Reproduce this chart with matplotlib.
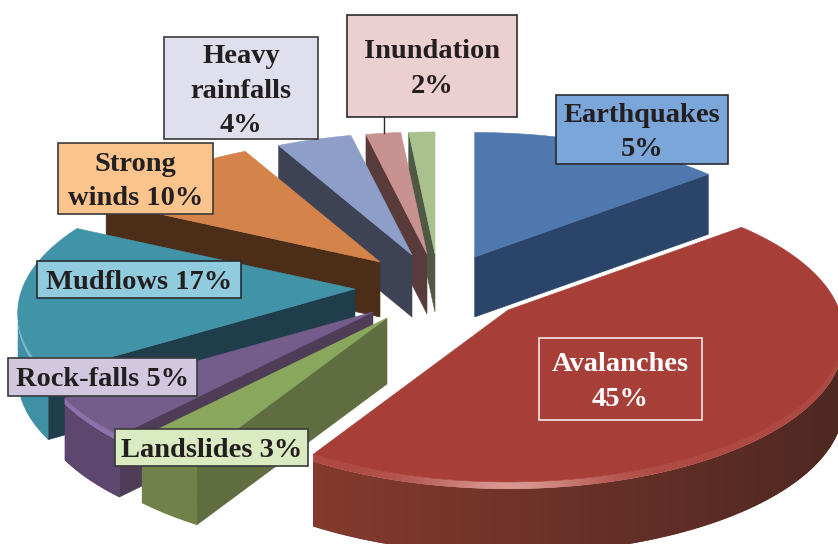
import numpy as np
import matplotlib
matplotlib.use("Agg")
import matplotlib.pyplot as plt
from matplotlib.colors import to_rgb
from matplotlib.patches import Polygon, Rectangle

# ---- data: slice shares, clockwise from twelve o'clock
slice_names = ["Earthquakes", "Avalanches", "Landslides", "Rock-falls", "Mudflows",
               "Strong winds", "Heavy rainfalls", "Inundation", "Other"]
slice_shares = [14.2, 44.5, 3.2, 4.3, 16.5, 9.9, 4.3, 2.0, 1.5]

# ---- label texts as printed on the chart
label_texts = ["Earthquakes\n5%", "Avalanches\n45%", "Landslides 3%", "Rock-falls 5%",
               "Mudflows 17%", "Strong\nwinds 10%", "Heavy\nrainfalls\n4%", "Inundation\n2%"]

# ---- styles
face_colors = ["#4F78AE", "#A83E38", "#89A85D", "#745C8B", "#4193A8",
               "#D4844A", "#8D9FC9", "#C89290", "#A9C18D"]
radial_colors = ["#2A4569", "#4E2822", "#5F6D41", "#4F3C57", "#203D4C",
                 "#4C2D18", "#3D4354", "#5A3B3B", "#4F5944"]
wall_left = ["#2A4569", "#843A2E", "#72814A", "#5D476E", "#3F90A5",
             "#4C2D18", "#3D4354", "#5A3B3B", "#4F5944"]
wall_right = ["#2A4569", "#4E2822", "#72814A", "#5D476E", "#3F90A5",
              "#4C2D18", "#3D4354", "#5A3B3B", "#4F5944"]
rim_colors = ["#6E93C0", "#D8978F", "#9DB874", "#8E72AC", "#7EB5C7",
              "#D4844A", "#8D9FC9", "#C89290", "#A9C18D"]
rim_sizes = [0, 7, 4, 6, 5, 0, 0, 0, 0]
depths = [60, 65, 62, 56, 60, 55, 62, 60, 58]
apex_x = [474.7, 508, 387, 373, 355, 380, 412, 427, 435]
apex_y = [257, 310, 318, 312, 289, 262, 255, 254, 254]
radius_scale = [1.01, 1.01, 0.985, 1.02, 1.015, 1.0, 0.99, 0.99, 0.99]
RX, RY, PERSP = 328.0, 143.0, 0.16
draw_order = [8, 7, 6, 5, 4, 3, 2, 0, 1]

# boxes: left, top, right, bottom, fill, edge, text colour
label_boxes = [
    (556, 95, 728, 164, "#7BA6DA", "#2B2B30", "#231F20"),
    (539, 338, 702, 420, "none", "#F4E6E4", "#FFFFFF"),
    (115, 429, 308, 466, "#DAEBC1", "#3A3A3A", "#231F20"),
    (8, 358, 197, 396, "#D1C8E0", "#3A3A3A", "#231F20"),
    (37, 261, 241, 298, "#90CBDE", "#2B2B30", "#231F20"),
    (58, 143, 213, 214, "#FBC48C", "#3A3A3A", "#231F20"),
    (164, 37, 318, 139, "#DFDFEE", "#3A3A3A", "#231F20"),
    (347, 15, 517, 117, "#ECCFD0", "#2B2B30", "#231F20"),
]


def project(ax0, ay0, theta, scale):
    s = scale / (1.0 + PERSP * np.cos(theta))
    return ax0 + RX * np.sin(theta) * s, ay0 - RY * np.cos(theta) * s


def mix(c1, c2, w):
    a, b = np.array(to_rgb(c1)), np.array(to_rgb(c2))
    return a + (b - a) * np.asarray(w)[..., None]


fig = plt.figure(figsize=(8.38, 5.44), dpi=100)
ax = fig.add_axes([0, 0, 1, 1])
ax.axis("off")

zcount = [2.0]


def nextz():
    zcount[0] += 0.01
    return zcount[0]


def gradient_poly(xy, colour_of_x):
    """Fill polygon xy with a left-to-right gradient given by colour_of_x."""
    xy = np.asarray(xy)
    x0, x1 = xy[:, 0].min(), xy[:, 0].max()
    y0, y1 = xy[:, 1].min(), xy[:, 1].max()
    xs = np.linspace(x0, x1, 256)
    z = nextz()
    poly = Polygon(xy, closed=True, fc=tuple(colour_of_x(np.array([0.5 * (x0 + x1)]))[0]),
                   ec="none", zorder=z)
    ax.add_patch(poly)
    im = ax.imshow(colour_of_x(xs)[None, :, :], extent=(x0, x1, y1, y0), aspect="auto",
                   interpolation="bilinear", zorder=nextz())
    im.set_clip_path(poly)


edges = np.radians(np.cumsum([0] + slice_shares) / sum(slice_shares) * 360.0)

for i in draw_order:
    th = np.linspace(edges[i], edges[i + 1], 200)
    px, py = project(apex_x[i], apex_y[i], th, radius_scale[i])
    a0 = (apex_x[i], apex_y[i])
    d = depths[i]
    r = rim_sizes[i]
    mid = project(a0[0], a0[1], 0.5 * (th[0] + th[-1]), radius_scale[i])

    # radial wall, only if the slice's top lies above that edge on screen
    for k in (0, -1):
        ex, ey = px[k], py[k]
        side = (ex - a0[0]) * (mid[1] - a0[1]) - (ey - a0[1]) * (mid[0] - a0[0])
        if side * (ex - a0[0]) < 0:
            ax.add_patch(Polygon([a0, (ex, ey), (ex, ey + d + r), (a0[0], a0[1] + d + r)],
                                 closed=True, fc=radial_colors[i], ec=radial_colors[i],
                                 lw=0.4, zorder=nextz()))

    # outer wall and bevelled rim, seen where the arc runs right to left
    keep = np.append(np.diff(px) < 0, False)
    keep[1:] |= keep[:-1]
    if keep.sum() > 1:
        vx, vy = px[keep], py[keep]
        lo, hi = vx.min(), vx.max()
        wall = np.vstack([np.column_stack([vx, vy + r]),
                          np.column_stack([vx, vy + r + d])[::-1]])
        gradient_poly(wall, lambda x, i=i, lo=lo, hi=hi:
                      mix(wall_left[i], wall_right[i], (x - lo) / max(hi - lo, 1)))
        if r:
            rim = np.vstack([np.column_stack([vx, vy]),
                             np.column_stack([vx, vy + r])[::-1]])
            if i == 1:
                gradient_poly(rim, lambda x, i=i:
                              mix(face_colors[i], rim_colors[i],
                                  0.12 + 0.88 * np.exp(-((x - 510) / 85.0) ** 2)))
            else:
                gradient_poly(rim, lambda x, i=i: mix(rim_colors[i], rim_colors[i], np.zeros_like(x)))

    # top face
    ax.add_patch(Polygon(np.vstack([[a0], np.column_stack([px, py])]), closed=True,
                         fc=face_colors[i], ec=face_colors[i], lw=0.4, zorder=nextz()))

# leader of the Inundation label
ax.plot([384, 384], [117, 133], color="#2B2B30", lw=1.0, zorder=3)

for text, (l, t, r_, b, fc, ec, tc) in zip(label_texts, label_boxes):
    ax.add_patch(Rectangle((l, t), r_ - l, b - t, fc=fc, ec=ec, lw=1.2, zorder=4))
    ax.text(0.5 * (l + r_), 0.5 * (t + b) + 3, text, ha="center", va="center", color=tc,
            family="Liberation Serif", weight="bold", fontsize=20.5, linespacing=1.5, zorder=5)

ax.set_xlim(0, 838)
ax.set_ylim(544, 0)
fig.savefig("out.png", dpi=100)
